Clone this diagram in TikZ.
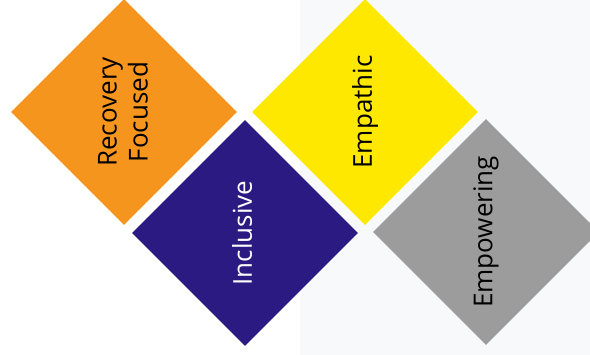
\documentclass[tikz,border=0pt]{standalone}
\usepackage{fontspec}
\setmainfont{Open Sans}
\usetikzlibrary{shapes.geometric}
\definecolor{cOrange}{HTML}{F6951E}
\definecolor{cIndigo}{HTML}{2A1A82}
\definecolor{cYellow}{HTML}{FFE800}
\definecolor{cGray}{HTML}{9C9C9C}
\definecolor{cPage}{HTML}{F8F9FB}
\tikzset{
  tile/.style={diamond, aspect=1, minimum width=226pt, minimum height=226pt, inner sep=0pt, draw=none},
  tiletext/.style={rotate=90, font=\fontsize{26}{31}\selectfont, align=center, inner sep=0pt}
}
\begin{document}
\begin{tikzpicture}[x=1pt,y=1pt]
\useasboundingbox (0,0) rectangle (590,355);
\clip (0,0) rectangle (590,355);
\fill[white] (0,0) rectangle (590,355);
\fill[cPage] (300,0) rectangle (590,355);
\node[tile, fill=cOrange] (rec) at (124,243) {};
\node[tile, fill=cIndigo] (inc) at (245,122) {};
\node[tile, fill=cYellow] (emp) at (365,243) {};
\node[tile, fill=cGray] (pow) at (486,123) {};
\node[tiletext, text=black] (trec) at ([xshift=-1pt]rec.center) {Recovery\\Focused};
\node[tiletext, text=white] (tinc) at ([xshift=-3pt]inc.center) {Inclusive};
\node[tiletext, text=black] (temp) at (emp.center) {Empathic};
\node[tiletext, text=black] (tpow) at (pow.center) {Empowering};
\end{tikzpicture}
\end{document}
